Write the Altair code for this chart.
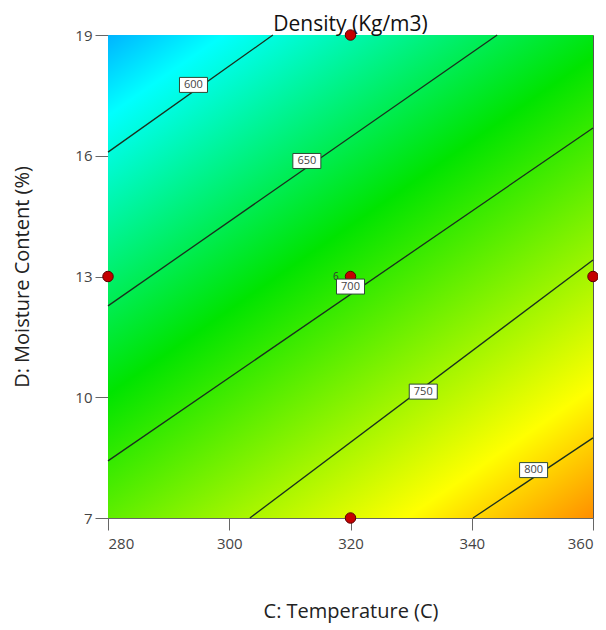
import altair as alt
import pandas as pd

# ---- data ----
temp_ticks = [280, 300, 320, 340, 360]
moist_ticks = [7, 10, 13, 16, 19]

contour_levels = [600, 650, 700, 750, 800]
contour_t1 = [280.0, 280.0, 280.0, 303.4, 340.2]
contour_m1 = [16.09, 12.27, 8.42, 7.0, 7.0]
contour_t2 = [307.2, 344.2, 360.0, 360.0, 360.0]
contour_m2 = [19.0, 19.0, 16.69, 13.41, 8.99]

label_t = [294.1, 312.8, 320.0, 332.0, 350.2]
label_m = [17.76, 15.87, 12.75, 10.14, 8.19]

# partly hidden label fragment next to the centre point
fragment_text = ["6"]
fragment_t = [317.6]
fragment_m = [12.98]

design_t = [320, 280, 320, 360, 320]
design_m = [19, 13, 13, 13, 7]

# estimated density at the plot corners
dens_top_left = 562
dens_top_right = 671
dens_bottom_left = 718
dens_bottom_right = 827

# colour ramp anchors (value -> colour)
ramp_values = [500, 588, 678, 785, 880]
ramp_colors = ["#0000ff", "#00ffff", "#00e400", "#ffff00", "#ff0000"]

# ---- gradient geometry (surface is planar: use a linear gradient) ----
du = dens_top_right - dens_top_left
dv = dens_bottom_left - dens_top_left
norm2 = du * du + dv * dv


def pos(v):
    k = (v - dens_top_left) / norm2
    return du * k, dv * k


x1, y1 = pos(ramp_values[0])
x2, y2 = pos(ramp_values[-1])
span = ramp_values[-1] - ramp_values[0]
stops = [alt.GradientStop(offset=(v - ramp_values[0]) / span, color=c)
         for v, c in zip(ramp_values, ramp_colors)]
grad = alt.LinearGradient(gradient="linear", stops=stops, x1=x1, y1=y1, x2=x2, y2=y2)

bg_df = pd.DataFrame({"t0": [temp_ticks[0]], "t1": [temp_ticks[-1]],
                      "m0": [moist_ticks[0]], "m1": [moist_ticks[-1]]})
lines_df = pd.DataFrame({"level": contour_levels, "t1": contour_t1, "m1": contour_m1,
                         "t2": contour_t2, "m2": contour_m2})
labels_df = pd.DataFrame({"level": [str(v) for v in contour_levels], "t": label_t, "m": label_m})
frag_df = pd.DataFrame({"txt": fragment_text, "t": fragment_t, "m": fragment_m})
pts_df = pd.DataFrame({"t": design_t, "m": design_m})

xscale = alt.Scale(domain=[280, 360], nice=False, zero=False)
yscale = alt.Scale(domain=[7, 19], nice=False, zero=False)

xaxis = alt.Axis(title="C: Temperature (C)", values=temp_ticks, grid=False, tickSize=12,
                 labelPadding=6, titlePadding=50)
yaxis = alt.Axis(title="D: Moisture Content (%)", values=moist_ticks, grid=False, tickSize=13,
                 labelPadding=3, titlePadding=42)

bg = alt.Chart(bg_df).mark_rect(fill=grad).encode(
    x=alt.X("t0:Q", scale=xscale, axis=xaxis),
    x2="t1:Q",
    y=alt.Y("m0:Q", scale=yscale, axis=yaxis),
    y2="m1:Q",
)

lines = alt.Chart(lines_df).mark_rule(color="#1a2e1e", strokeWidth=1.3).encode(
    x=alt.X("t1:Q", scale=xscale), y=alt.Y("m1:Q", scale=yscale),
    x2="t2:Q", y2="m2:Q",
)

frag = alt.Chart(frag_df).mark_text(fontSize=10, color="#333333", font="Open Sans").encode(
    x=alt.X("t:Q", scale=xscale), y=alt.Y("m:Q", scale=yscale), text="txt:N"
)

boxes = alt.Chart(labels_df).mark_point(
    shape="M-1.4,-0.75L1.4,-0.75L1.4,0.75L-1.4,0.75Z", size=400, filled=True,
    fill="white", stroke="#2f4a35", strokeWidth=1, opacity=1,
).encode(x=alt.X("t:Q", scale=xscale), y=alt.Y("m:Q", scale=yscale))

texts = alt.Chart(labels_df).mark_text(fontSize=11, color="#444444", font="Open Sans").encode(
    x=alt.X("t:Q", scale=xscale), y=alt.Y("m:Q", scale=yscale), text="level:N"
)

pts = alt.Chart(pts_df).mark_point(
    filled=True, size=110, fill="#c40000", stroke="#5a0000", strokeWidth=1, opacity=1
).encode(x=alt.X("t:Q", scale=xscale), y=alt.Y("m:Q", scale=yscale))

chart = alt.layer(bg, lines, frag, pts, boxes, texts).properties(
    width=485, height=483,
    title=alt.TitleParams("Density (Kg/m3)", fontSize=21, fontWeight="normal", color="#111111",
                          font="Open Sans", anchor="middle", offset=-7),
    autosize=alt.AutoSizeParams(type="none"),
    padding={"left": 100, "top": 27, "right": 5, "bottom": 112},
).configure_view(stroke="#555555", strokeWidth=1).configure_axis(
    labelFont="Open Sans", titleFont="Open Sans", labelFontSize=15, titleFontSize=20,
    labelColor="#444444", titleColor="#222222", titleFontWeight="normal",
    domainColor="#666666", tickColor="#666666",
)

chart.save("out.html", embed_options={"renderer": "svg", "actions": False})
